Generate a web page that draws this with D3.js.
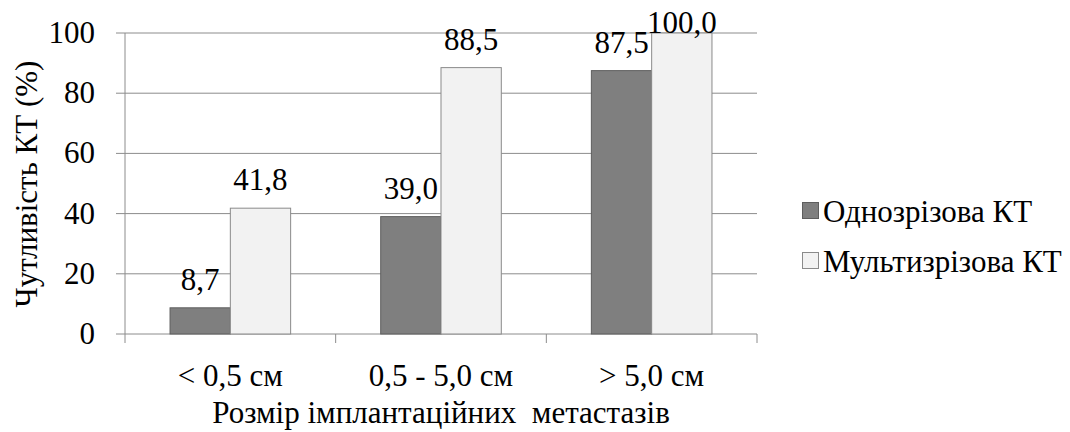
<!DOCTYPE html>
<html><head><meta charset="utf-8">
<script src="https://cdn.jsdelivr.net/npm/d3@7"></script>
</head><body style="margin:0">
<svg id="c" width="1070" height="432"></svg>
<script>
const categories = ["< 0,5 см", "0,5 - 5,0 см", "> 5,0 см"];
const seriesNames = ["Однозрізова КТ", "Мультизрізова КТ"];
const singleSlice = [8.7, 39.0, 87.5];
const multiSlice = [41.8, 88.5, 100.0];
const yTicks = [0, 20, 40, 60, 80, 100];
const yTitle = "Чутливість КТ (%)";
const xTitle = "Розмір імплантаційних  метастазів";

const barColors = ["#7f7f7f", "#f2f2f2"];
const barStrokes = ["#5e5e5e", "#8a8a8a"];
const FS = 31;
const FF = "Liberation Serif";

const svg = d3.select("#c");
const pLeft = 125, pRight = 757, pTop = 33, pBottom = 334;

function txt(sel) {
  return sel.attr("font-family", FF).style("font-family", FF, "important").attr("font-size", FS);
}

const xScale = d3.scaleBand().domain(categories).range([pLeft, pRight]).paddingInner(0).paddingOuter(0);
const inner = d3.scaleBand().domain([0, 1]).range([0, 120.6]);
const yScale = d3.scaleLinear().domain([0, 100]).range([pBottom, pTop]);

yTicks.forEach(t => {
  svg.append("line").attr("x1", pLeft - 9).attr("x2", pRight)
    .attr("y1", yScale(t)).attr("y2", yScale(t))
    .attr("stroke", "#8c8c8c").attr("stroke-width", 1);
  txt(svg.append("text")).attr("x", pLeft - 30).attr("y", yScale(t) + 10)
    .attr("text-anchor", "end").text(t);
});

svg.append("line").attr("x1", pLeft).attr("x2", pLeft).attr("y1", pTop).attr("y2", pBottom)
  .attr("stroke", "#8c8c8c");
categories.map(c => xScale(c)).concat([pRight]).forEach(b => {
  svg.append("line").attr("x1", b).attr("x2", b).attr("y1", pBottom).attr("y2", pBottom + 9)
    .attr("stroke", "#8c8c8c");
});

[singleSlice, multiSlice].forEach((vals, si) => {
  vals.forEach((v, i) => {
    const bx = xScale(categories[i]) + xScale.bandwidth() / 2 - 60.3 + inner(si);
    svg.append("rect").attr("x", bx).attr("width", inner.bandwidth())
      .attr("y", yScale(v)).attr("height", pBottom - yScale(v))
      .attr("fill", barColors[si]).attr("stroke", barStrokes[si]).attr("stroke-width", 1);
    txt(svg.append("text")).attr("x", bx + inner.bandwidth() / 2)
      .attr("y", Math.max(yScale(v) - 18, yScale(100)))
      .attr("text-anchor", "middle").text(v.toFixed(1).replace(".", ","));
  });
});

categories.forEach(c => {
  txt(svg.append("text")).attr("x", xScale(c) + xScale.bandwidth() / 2).attr("y", 386)
    .attr("text-anchor", "middle").attr("xml:space", "preserve").text(c);
});

txt(svg.append("text")).attr("x", 441).attr("y", 423).attr("text-anchor", "middle")
  .attr("xml:space", "preserve").text(xTitle);
txt(svg.append("text")).attr("transform", "translate(37,184) rotate(-90)").attr("text-anchor", "middle")
  .text(yTitle);

seriesNames.forEach((n, i) => {
  const base = 222 + i * 50;
  svg.append("rect").attr("x", 802.5).attr("y", base - 19.5).attr("width", 16).attr("height", 16)
    .attr("fill", barColors[i]).attr("stroke", barStrokes[i]);
  txt(svg.append("text")).attr("x", 823).attr("y", base).text(n);
});
</script>
</body></html>
